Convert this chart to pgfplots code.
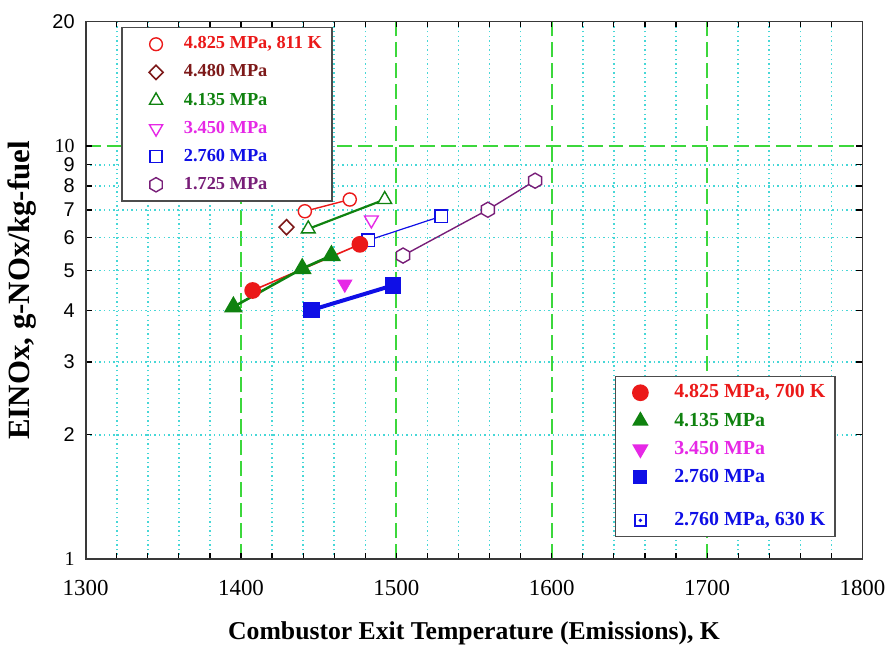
\documentclass[border=0pt]{standalone}
\usepackage{pgfplots}
\pgfplotsset{compat=1.18}
\usepackage{fontspec}
\setmainfont{Liberation Serif}
\newfontfamily\sansf{Liberation Sans}

\definecolor{gridgreen}{RGB}{60,215,60}
\definecolor{gridcyan}{RGB}{70,215,215}
\definecolor{cred}{RGB}{235,25,25}
\definecolor{cbrown}{RGB}{125,25,25}
\definecolor{cgreen}{RGB}{15,130,15}
\definecolor{cmag}{RGB}{230,40,230}
\definecolor{cblue}{RGB}{15,15,230}
\definecolor{cpurple}{RGB}{120,30,120}

% hexagon with a vertex at the top
\pgfdeclareplotmark{hexagon}{%
  \pgfpathmoveto{\pgfpointpolar{90}{\pgfplotmarksize}}%
  \pgfpathlineto{\pgfpointpolar{150}{\pgfplotmarksize}}%
  \pgfpathlineto{\pgfpointpolar{210}{\pgfplotmarksize}}%
  \pgfpathlineto{\pgfpointpolar{270}{\pgfplotmarksize}}%
  \pgfpathlineto{\pgfpointpolar{330}{\pgfplotmarksize}}%
  \pgfpathlineto{\pgfpointpolar{30}{\pgfplotmarksize}}%
  \pgfpathclose
  \pgfusepathqfillstroke}
% open square with a dot in the middle
\pgfdeclareplotmark{sqdot}{%
  \pgfpathrectangle{\pgfpoint{-\pgfplotmarksize}{-\pgfplotmarksize}}{\pgfpoint{2\pgfplotmarksize}{2\pgfplotmarksize}}%
  \pgfusepathqstroke
  \pgfpathcircle{\pgfpointorigin}{0.35\pgfplotmarksize}%
  \pgfusepathqfill}

\begin{document}
\begin{tikzpicture}
\begin{axis}[
  width=390pt, height=270pt, scale only axis,
  xmin=1300, xmax=1800, ymode=log, ymin=1, ymax=20,
  xtick={1300,1400,1500,1600,1700,1800},
  xticklabels={1300,1400,1500,1600,1700,1800},
  minor x tick num=4,
  ytick={1,2,3,4,5,6,7,8,9,10,20},
  yticklabels={1,{\sansf 2},{\sansf 3},{\sansf 4},{\sansf 5},{\sansf 6},{\sansf 7},{\sansf 8},{\sansf 9},10,{\sansf 20}},
  minor ytick={2,3,4,5,6,7,8,9},
  xmajorgrids, xminorgrids, yminorgrids,
  extra y ticks={10}, extra y tick labels={},
  extra y tick style={ymajorgrids=true,
    major grid style={gridgreen, dash pattern=on 7.5pt off 3pt, line width=0.9pt}},
  major grid style={gridgreen, dash pattern=on 7.5pt off 3pt, line width=0.9pt},
  minor grid style={gridcyan, dash pattern=on 0.7pt off 1.6pt, line width=0.8pt},
  tick align=inside, major tick length=3pt, minor tick length=3pt,
  tick style={black, line width=0.6pt},
  axis line style={gray!45!black, line width=0.9pt},
  xticklabel style={font=\fontsize{11.5}{13}\selectfont, yshift=-7pt},
  yticklabel style={font=\fontsize{10}{12}\selectfont, xshift=-2pt},
  xlabel={Combustor Exit Temperature (Emissions), K},
  ylabel={EINOx, g-NOx/kg-fuel},
  xlabel style={font=\fontsize{12.9}{14}\selectfont\bfseries, at={(axis description cs:0.5,0)}, anchor=center, yshift=-37pt},
  ylabel style={font=\fontsize{15.5}{17}\selectfont\bfseries, at={(axis description cs:0,0.5)}, anchor=center, yshift=32pt},
  % page margins as in the reference
  extra description/.code={
    \path (0,1) ++(0pt,10.8pt);
    \path (0,0) ++(-43pt,-44.5pt);
    \path (1,0) ++(13pt,0pt);
  },
  legend cell align=left,
  legend style={at={(0.046,0.99)}, anchor=north west,
    font=\fontsize{9.2}{11}\selectfont\bfseries,
    draw=gray!60!black, line width=0.8pt, fill=white,
    inner xsep=3pt, inner ysep=2.5pt, row sep=2.5pt},
  legend image code/.code={%
    \path[draw=none, fill=none] (0pt,-3pt) rectangle (26pt,3pt);
    \draw[mark repeat=2,mark phase=2,#1] plot coordinates {(0pt,0pt) (14pt,0pt) (28pt,0pt)};},
]
% 4.825 MPa, 811 K (open circles)
\addplot[cred, line width=0.7pt, mark=*, mark size=3.3pt, mark options={fill=white, line width=0.7pt}, forget plot]
  coordinates {(1441.1,6.95) (1470.0,7.42)};
% 4.480 MPa (open diamond)
\addplot[cbrown, only marks, mark=diamond*, mark size=3.8pt, mark options={fill=white, line width=0.8pt, xscale=1.3}, forget plot]
  coordinates {(1429.3,6.36)};
% 4.135 MPa (open triangles)
\addplot[cgreen, line width=1.1pt, mark=triangle*, mark size=4pt, mark options={fill=white, line width=0.7pt}, forget plot]
  coordinates {(1443.3,6.30) (1492.5,7.42)};
% 3.450 MPa (open inverted triangle)
\addplot[cmag, only marks, mark=triangle*, mark size=4pt, mark options={fill=white, line width=0.7pt, rotate=180}, forget plot]
  coordinates {(1483.9,6.62)};
% 2.760 MPa (open squares)
\addplot[cblue, line width=0.6pt, mark=square*, mark size=3.1pt, mark options={fill=white, line width=0.7pt}, forget plot]
  coordinates {(1481.8,5.91) (1528.9,6.76)};
% 1.725 MPa (open hexagons)
\addplot[cpurple, line width=0.7pt, mark=hexagon, mark size=3.8pt, mark options={fill=white, line width=0.7pt}, forget plot]
  coordinates {(1504.3,5.43) (1558.9,7.01) (1589.3,8.24)};

\addlegendimage{only marks, cred, mark=*, mark size=3.2pt, mark options={fill=white, line width=0.7pt}}
\addlegendentry{\textcolor{cred}{4.825 MPa, 811 K}}
\addlegendimage{only marks, cbrown, mark=diamond*, mark size=3.6pt, mark options={fill=white, line width=0.8pt, xscale=1.3}}
\addlegendentry{\textcolor{cbrown}{4.480 MPa}}
\addlegendimage{only marks, cgreen, mark=triangle*, mark size=3.8pt, mark options={fill=white, line width=0.7pt}}
\addlegendentry{\textcolor{cgreen}{4.135 MPa}}
\addlegendimage{only marks, cmag, mark=triangle*, mark size=3.8pt, mark options={fill=white, line width=0.7pt, rotate=180}}
\addlegendentry{\textcolor{cmag}{3.450 MPa}}
\addlegendimage{only marks, cblue, mark=square*, mark size=3pt, mark options={fill=white, line width=0.7pt}}
\addlegendentry{\textcolor{cblue}{2.760 MPa}}
\addlegendimage{only marks, cpurple, mark=hexagon, mark size=3.6pt, mark options={fill=white, line width=0.7pt}}
\addlegendentry{\textcolor{cpurple}{1.725 MPa}}
\end{axis}

\begin{axis}[
  width=390pt, height=270pt, scale only axis,
  xmin=1300, xmax=1800, ymode=log, ymin=1, ymax=20,
  hide axis,
  legend cell align=left,
  legend style={at={(0.966,0.041)}, anchor=south east,
    font=\fontsize{10}{12}\selectfont\bfseries,
    draw=gray!60!black, line width=0.8pt, fill=white,
    inner xsep=3pt, inner ysep=2pt, row sep=2pt},
  legend image code/.code={%
    \path[draw=none, fill=none] (0pt,-3pt) rectangle (24.5pt,3pt);
    \draw[mark repeat=2,mark phase=2,#1] plot coordinates {(0pt,0pt) (9.5pt,0pt) (19pt,0pt)};},
]
% 4.825 MPa, 700 K (filled circles)
\addplot[cred, line width=0.8pt, mark=*, mark size=3.8pt, forget plot]
  coordinates {(1407.5,4.47) (1476.5,5.78)};
% 4.135 MPa (filled triangles)
\addplot[cgreen, line width=1.3pt, mark=triangle*, mark size=4.2pt, forget plot]
  coordinates {(1395.1,4.08) (1439.4,5.05) (1458.2,5.43)};
% 3.450 MPa (filled inverted triangle)
\addplot[cmag, only marks, mark=triangle*, mark size=4.1pt, mark options={rotate=180}, forget plot]
  coordinates {(1466.8,4.63)};
% 2.760 MPa (filled squares)
\addplot[cblue, line width=2pt, mark=square*, mark size=3.2pt, forget plot]
  coordinates {(1445.4,4.01) (1497.9,4.60)};

\addlegendimage{only marks, cred, mark=*, mark size=3.8pt}
\addlegendentry{\textcolor{cred}{4.825 MPa, 700 K}}
\addlegendimage{only marks, cgreen, mark=triangle*, mark size=4pt}
\addlegendentry{\textcolor{cgreen}{4.135 MPa}}
\addlegendimage{only marks, cmag, mark=triangle*, mark size=4pt, mark options={rotate=180}}
\addlegendentry{\textcolor{cmag}{3.450 MPa}}
\addlegendimage{only marks, cblue, mark=square*, mark size=3.1pt}
\addlegendentry{\textcolor{cblue}{2.760 MPa}}
\addlegendimage{empty legend}
\addlegendentry{\rule{0pt}{0pt}}
\addlegendimage{only marks, cblue, mark=sqdot, mark size=2.8pt, mark options={line width=0.7pt}}
\addlegendentry{\textcolor{cblue}{2.760 MPa, 630 K}}
\end{axis}
\end{tikzpicture}
\end{document}
